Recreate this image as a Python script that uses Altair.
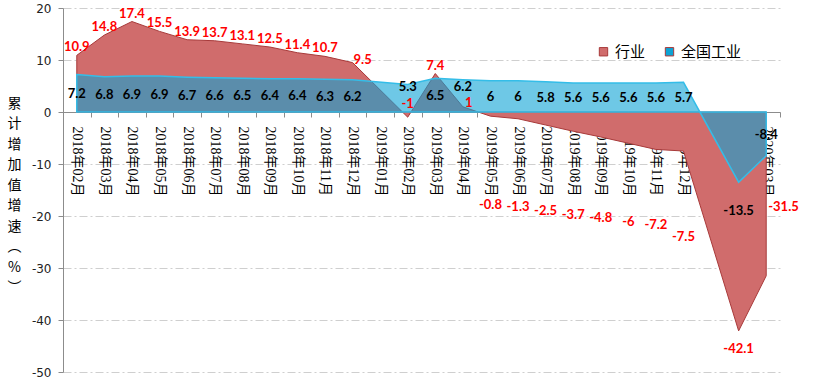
import altair as alt
import pandas as pd

months = [
    "2018年02月", "2018年03月", "2018年04月", "2018年05月", "2018年06月", "2018年07月",
    "2018年08月", "2018年09月", "2018年10月", "2018年11月", "2018年12月",
    "2019年01月", "2019年02月", "2019年03月", "2019年04月", "2019年05月", "2019年06月",
    "2019年07月", "2019年08月", "2019年09月", "2019年10月", "2019年11月", "2019年12月",
    "2020年01月", "2020年02月", "2020年03月",
]
industry = [10.9, 14.8, 17.4, 15.5, 13.9, 13.7, 13.1, 12.5, 11.4, 10.7, 9.5,
            None, -1, 7.4, 1, -0.8, -1.3, -2.5, -3.7, -4.8, -6, -7.2, -7.5,
            None, -42.1, -31.5]
national = [7.2, 6.8, 6.9, 6.9, 6.7, 6.6, 6.5, 6.4, 6.4, 6.3, 6.2,
            None, 5.3, 6.5, 6.2, 6, 6, 5.8, 5.6, 5.6, 5.6, 5.6, 5.7,
            None, -13.5, -8.4]
series = ["行业", "全国工业"]
y_ticks = [20, 10, 0, -10, -20, -30, -40, -50]
y_title = ["累", "计", "增", "加", "值", "增", "速", "︵", "%", "︶"]

rows = []
for i, m in enumerate(months):
    rows.append({"m": m, "s": series[0], "v": industry[i]})
    rows.append({"m": m, "s": series[1], "v": national[i]})
df = pd.DataFrame(rows)

W, H = 717, 364
CJK = "Noto Sans CJK SC"
LABF = "Lato"

xenc = alt.X(
    "m:N", sort=months, bandPosition=0.5,
    scale=alt.Scale(type="band", domain=months, paddingInner=0, paddingOuter=0),
    axis=alt.Axis(
        title=None, labelAngle=90, labelAlign="left", labelBaseline="middle",
        labelFont="Liberation Serif, " + CJK, labelFontSize=14, labelColor="#000",
        offset=-260, tickBand="extent", domainColor="#8c8c8c", tickColor="#8c8c8c",
        tickSize=5, labelPadding=9, grid=False, labelOverlap=False,
    ),
)
yscale = alt.Scale(domain=[-50, 20], nice=False)
yaxis = alt.Axis(
    values=y_ticks, labelExpr="'' + datum.value",
    labelFont="DejaVu Sans", labelFontSize=12, labelColor="#222",
    tickSize=5, tickColor="#8c8c8c", domainColor="#8c8c8c", labelPadding=7,
    grid=True, gridColor="#cfcfcf", gridDash=[8, 3, 2, 3], gridWidth=1,
    title=y_title, titleAngle=0, titleX=-49, titleY=95, titleAlign="center",
    titleBaseline="middle", titleFont=CJK, titleFontSize=14, titleFontWeight="normal",
    titleColor="#000", titleLineHeight=20.5,
)


def Y(field):
    return alt.Y(field + ":Q", scale=yscale, axis=yaxis)


color = alt.Color(
    "s:N",
    scale=alt.Scale(domain=series, range=["#d06c6c", "#0da3d5"]),
    legend=alt.Legend(
        title=None, orient="none", legendX=533, legendY=36, direction="horizontal",
        symbolType="square", symbolSize=70, symbolOpacity=1, symbolStrokeWidth=1,
        labelFont=CJK, labelFontSize=15, labelColor="#000", columnPadding=16,
        labelOffset=4,
    ),
)

base = alt.Chart(df).transform_filter("isValid(datum.v)").transform_calculate(
    lab="'' + datum.v"
)

area_red = base.transform_filter(f"datum.s == '{series[0]}'").mark_area(
    stroke="#a83a3a", strokeWidth=1
).encode(x=xenc, y=Y("v"), y2=alt.datum(0), color=color)

area_blue = base.transform_filter(f"datum.s == '{series[1]}'").mark_area(
    fillOpacity=0.6, stroke="#34bde8", strokeWidth=1.5
).encode(x=xenc, y=Y("v"), y2=alt.datum(0), color=color)


def txt(filt, yfield="v", calc=None, **kw):
    c = base.transform_filter(filt)
    if calc is not None:
        c = c.transform_calculate(ly=calc)
    style = dict(font=LABF, fontSize=13, fontWeight="bold", baseline="middle")
    style.update(kw)
    return c.mark_text(**style).encode(x=xenc, y=Y(yfield), text=alt.Text("lab:N"))


RED = "#ff0000"
S0 = f"datum.s == '{series[0]}'"
S1 = f"datum.s == '{series[1]}'"
SPECIAL0 = "['2018年12月', '2019年02月', '2019年04月']"

texts = [
    txt(f"{S0} && datum.v >= 0 && indexof({SPECIAL0}, datum.m) < 0", color=RED, dy=-8),
    txt(f"{S0} && datum.m == '2018年12月'", color=RED, align="left", dx=1, dy=-3),
    txt(f"{S0} && datum.m == '2019年02月'", color=RED, dy=-13),
    txt(f"{S0} && datum.m == '2019年04月'", color=RED, dx=6, dy=-4),
    txt(f"{S0} && datum.v < 0 && datum.v > -7.4 && datum.m != '2019年02月'",
        yfield="ly", calc="datum.v * 0.6 - 17.5", color=RED),
    txt(f"{S0} && datum.m == '2019年12月'", color=RED, dy=86),
    txt(f"{S0} && datum.m == '2020年02月'", color=RED, dy=18),
    txt(f"{S0} && datum.m == '2020年03月'", color=RED, align="left", dx=2, dy=-69),
    txt(f"{S1} && datum.v > -10 && datum.m != '2019年02月' && datum.m != '2019年04月'",
        yfield="ly", calc="datum.v / 2", color="#000", dy=1),
    txt(f"{S1} && datum.m == '2019年02月'",
        yfield="ly", calc="datum.v / 2", color="#000", dy=-11),
    txt(f"{S1} && datum.m == '2019年04月'",
        yfield="ly", calc="datum.v / 2", color="#000", dy=-9),
    txt(f"{S1} && datum.m == '2020年02月'", color="#000", dy=29),
]

chart = alt.layer(area_red, area_blue, *texts).properties(
    width=W, height=H,
    padding={"left": 63, "top": 8, "right": 40, "bottom": 11},
    autosize=alt.AutoSizeParams(type="none"),
).configure_view(stroke=None)

chart.save("out.html", embed_options={"renderer": "svg", "actions": False})
